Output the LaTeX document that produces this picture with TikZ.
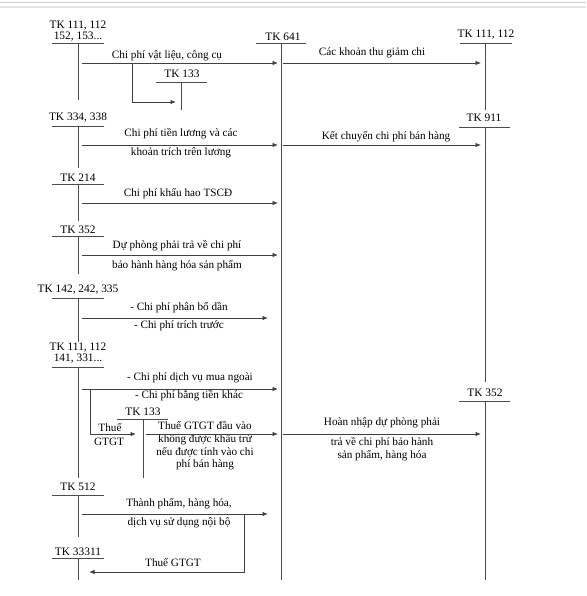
\documentclass[tikz,border=0pt]{standalone}
\usepackage{fontspec}
\setmainfont{Liberation Serif}
\usetikzlibrary{arrows.meta}

\begin{document}
\begin{tikzpicture}[x=1pt, y=-1pt,
    acct/.style={font=\fontsize{11.4}{11.5}\selectfont, align=center, inner sep=0pt},
    lbl/.style={font=\fontsize{11.2}{12.7}\selectfont, align=center, inner sep=0pt},
    tline/.style={line width=0.95pt, black!70},
    arr/.style={-{Latex[length=5.5pt, width=4.5pt]}, line width=0.85pt, black!75},
]
\useasboundingbox (0,0) rectangle (586,596);
\fill[white] (0,0) rectangle (586,596);
\draw[gray!40, line width=0.8pt] (0,2.7) -- (586,2.7);
\draw[gray!20, line width=1.6pt] (0,6.8) -- (586,6.8);

% Left accounts
\node[acct] (ltk111) at (78,31) {TK 111, 112\\152, 153...};
\draw[tline] (52,43) -- (104,43) (78,43) -- (78,100);
\node[acct] (ltk334) at (78,118) {TK 334, 338};
\draw[tline] (52,126) -- (104,126) (78,126) -- (78,168);
\node[acct] (ltk214) at (78,178) {TK 214};
\draw[tline] (52,184) -- (104,184) (78,184) -- (78,221);
\node[acct] (ltk352) at (78,230) {TK 352};
\draw[tline] (52,236) -- (104,236) (78,236) -- (78,274);
\node[acct] (ltk142) at (78,290) {TK 142, 242, 335};
\draw[tline] (52,298) -- (104,298) (78,298) -- (78,342);
\node[acct] (ltk111b) at (78,353) {TK 111, 112\\141, 331...};
\draw[tline] (52,367) -- (104,367) (78,367) -- (78,478);
\node[acct] (ltk512) at (78,487) {TK 512};
\draw[tline] (52,495) -- (104,495) (78,495) -- (78,537);
\node[acct] (ltk333) at (78,552) {TK 33311};
\draw[tline] (52,558) -- (104,558) (78,558) -- (78,580);

% TK 133 (two small accounts)
\node[acct] (mtk133) at (182,74) {TK 133};
\draw[tline] (156,82) -- (207,82) (181,82) -- (181,110);
\node[acct] (mtk133b) at (143,412) {TK 133};
\draw[tline] (117,419) -- (168,419) (143,419) -- (143,478);

% TK 641
\node[acct] (tk641) at (283,37) {TK 641};
\draw[tline] (256,43) -- (306,43) (281,43) -- (281,580);

% Right accounts
\node[acct] (rtk111) at (486,35) {TK 111, 112};
\draw[tline] (460,43) -- (512,43) (485,43) -- (485,110);
\node[acct] (rtk911) at (484,118) {TK 911};
\draw[tline] (459,127) -- (510,127) (485,127) -- (485,382);
\node[acct] (rtk352) at (485,393) {TK 352};
\draw[tline] (459,401) -- (510,401) (485,401) -- (485,580);

% Arrow end points
\coordinate (p1) at (82,63);   \coordinate (q1) at (278,63);
\coordinate (b1) at (132,63);  \coordinate (c1) at (176,102);
\coordinate (p2) at (283,63);  \coordinate (q2) at (481,63);
\coordinate (p3) at (82,145);  \coordinate (q3) at (278,145);
\coordinate (p4) at (283,145); \coordinate (q4) at (481,145);
\coordinate (p5) at (82,203);  \coordinate (q5) at (278,203);
\coordinate (p6) at (82,255);  \coordinate (q6) at (278,255);
\coordinate (p7) at (82,318);  \coordinate (q7) at (268,318);
\coordinate (p8) at (82,389);  \coordinate (q8) at (278,389);
\coordinate (b8) at (90,389);  \coordinate (c8) at (136,434);
\coordinate (p9) at (146,434); \coordinate (q9) at (278,434);
\coordinate (p10) at (283,434); \coordinate (q10) at (481,434);
\coordinate (p11) at (82,514); \coordinate (q11) at (268,514);
\coordinate (b11) at (244,514); \coordinate (c11) at (89,572);

% Labels
\node[lbl] (t1) at (167,56) {Chi phí vật liệu, công cụ};
\node[lbl] (t2) at (372,53) {Các khoản thu giảm chi};
\node[lbl] (t3a) at (181,134) {Chi phí tiền lương và các};
\node[lbl] (t3b) at (181,153) {khoản trích trên lương};
\node[lbl] (t4) at (386,137) {Kết chuyển chi phí bán hàng};
\node[lbl] (t5) at (178,194) {Chi phí khấu hao TSCĐ};
\node[lbl] (t6a) at (177,246) {Dự phòng phải trả về chi phí};
\node[lbl] (t6b) at (177,266) {bảo hành hàng hóa sản phẩm};
\node[lbl] (t7a) at (179,308) {- Chi phí phân bổ dần};
\node[lbl] (t7b) at (179,326) {- Chi phí trích trước};
\node[lbl] (t8a) at (190,378) {- Chi phí dịch vụ mua ngoài};
\node[lbl] (t8b) at (189,396) {- Chi phí bằng tiền khác};
\node[lbl] (t8c) at (110,427) {Thuế};
\node[lbl] (t8d) at (109,442) {GTGT};
\node[lbl] (t9) at (205,446) {Thuế GTGT đầu vào\\không được khấu trừ\\nếu được tính vào chi\\phí bán hàng};
\node[lbl] (t10a) at (382,423) {Hoàn nhập dự phòng phải};
\node[lbl] (t10b) at (382,449) {trả về chi phí bảo hành\\sản phẩm, hàng hóa};
\node[lbl] (t11a) at (179,504) {Thành phẩm, hàng hóa,};
\node[lbl] (t11b) at (179,523) {dịch vụ sử dụng nội bộ};
\node[lbl] (t12) at (173,562) {Thuế GTGT};

% Arrows
\draw[arr] (p1) -- (q1);
\draw[arr] (b1) |- (c1);
\draw[arr] (p2) -- (q2);
\draw[arr] (p3) -- (q3);
\draw[arr] (p4) -- (q4);
\draw[arr] (p5) -- (q5);
\draw[arr] (p6) -- (q6);
\draw[arr] (p7) -- (q7);
\draw[arr] (p8) -- (q8);
\draw[arr] (b8) |- (c8);
\draw[arr] (p9) -- (q9);
\draw[arr] (p10) -- (q10);
\draw[arr] (p11) -- (q11);
\draw[arr] (b11) |- (c11);

\end{tikzpicture}
\end{document}
